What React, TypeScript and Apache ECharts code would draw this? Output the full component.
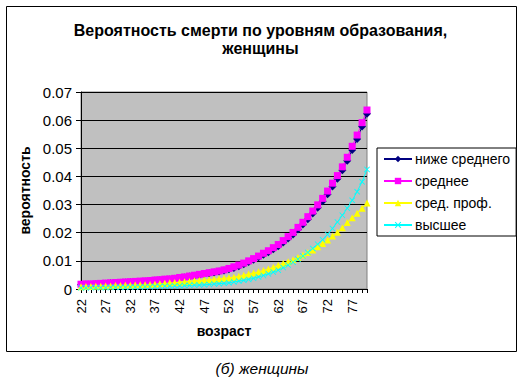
import React, { useEffect, useRef } from "react";
import * as echarts from "echarts";

const ages: string[] = [
  "22","23","24","25","26","27","28","29","30","31","32","33","34","35","36","37","38","39","40",
  "41","42","43","44","45","46","47","48","49","50","51","52","53","54","55","56","57","58","59","60",
  "61","62","63","64","65","66","67","68","69","70","71","72","73","74","75","76","77","78","79","80",
];

const belowSecondary: number[] = [
  0.0015, 0.0016, 0.0016, 0.0017, 0.0018, 0.0019, 0.0020, 0.0021, 0.0022, 0.0023,
  0.0024, 0.0025, 0.0026, 0.0027, 0.0028, 0.0030, 0.0031, 0.0033, 0.0034, 0.0036,
  0.0039, 0.0041, 0.0044, 0.0047, 0.0050, 0.0053, 0.0056, 0.0059, 0.0062, 0.0066,
  0.0070, 0.0075, 0.0081, 0.0088, 0.0096, 0.0104, 0.0113, 0.0122, 0.0131, 0.0141,
  0.0152, 0.0165, 0.0179, 0.0194, 0.0211, 0.0229, 0.0248, 0.0268, 0.0289, 0.0312,
  0.0337, 0.0364, 0.0392, 0.0422, 0.0456, 0.0494, 0.0533, 0.0577, 0.0623,
];

const secondary: number[] = [
  0.0017, 0.0018, 0.0018, 0.0019, 0.0020, 0.0021, 0.0022, 0.0023, 0.0024, 0.0025,
  0.0026, 0.0027, 0.0028, 0.0029, 0.0030, 0.0032, 0.0033, 0.0035, 0.0036, 0.0038,
  0.0041, 0.0043, 0.0046, 0.0049, 0.0052, 0.0055, 0.0058, 0.0061, 0.0064, 0.0068,
  0.0073, 0.0079, 0.0085, 0.0092, 0.0100, 0.0108, 0.0117, 0.0127, 0.0136, 0.0147,
  0.0158, 0.0172, 0.0186, 0.0201, 0.0219, 0.0237, 0.0257, 0.0277, 0.0299, 0.0322,
  0.0348, 0.0376, 0.0403, 0.0434, 0.0468, 0.0507, 0.0547, 0.0591, 0.0636,
];

const vocational: number[] = [
  0.0008, 0.0009, 0.0009, 0.0010, 0.0010, 0.0011, 0.0011, 0.0012, 0.0012, 0.0013,
  0.0013, 0.0014, 0.0015, 0.0015, 0.0016, 0.0017, 0.0019, 0.0020, 0.0022, 0.0023,
  0.0024, 0.0026, 0.0027, 0.0029, 0.0030, 0.0032, 0.0033, 0.0035, 0.0036, 0.0038,
  0.0040, 0.0042, 0.0045, 0.0049, 0.0053, 0.0057, 0.0061, 0.0066, 0.0071, 0.0077,
  0.0084, 0.0091, 0.0097, 0.0104, 0.0112, 0.0121, 0.0130, 0.0139, 0.0150, 0.0162,
  0.0174, 0.0188, 0.0202, 0.0218, 0.0236, 0.0253, 0.0269, 0.0287, 0.0306,
];

const higher: number[] = [
  0.0004, 0.0004, 0.0005, 0.0005, 0.0005, 0.0005, 0.0006, 0.0006, 0.0006, 0.0006,
  0.0007, 0.0007, 0.0007, 0.0008, 0.0008, 0.0009, 0.0009, 0.0010, 0.0010, 0.0011,
  0.0011, 0.0012, 0.0013, 0.0014, 0.0014, 0.0015, 0.0016, 0.0018, 0.0019, 0.0020,
  0.0022, 0.0025, 0.0028, 0.0031, 0.0034, 0.0038, 0.0043, 0.0048, 0.0054, 0.0060,
  0.0067, 0.0076, 0.0085, 0.0095, 0.0106, 0.0117, 0.0130, 0.0144, 0.0159, 0.0175,
  0.0194, 0.0215, 0.0238, 0.0262, 0.0287, 0.0315, 0.0346, 0.0381, 0.0425,
];

const seriesNames = ["ниже среднего", "среднее", "сред. проф.", "высшее"];
const yTicks = [0, 0.01, 0.02, 0.03, 0.04, 0.05, 0.06, 0.07];

const FONT = "Liberation Sans, Arial, sans-serif";
const CROSS = "path://M0,1L1,0L5,4L9,0L10,1L6,5L10,9L9,10L5,6L1,10L0,9L4,5Z";

export default function App() {
  const ref = useRef<HTMLDivElement>(null);

  useEffect(() => {
    if (!ref.current) return;
    const chart = echarts.init(ref.current, null, { renderer: "svg" });
    const mk = (name: string, data: number[], color: string, symbol: string, size: number) => ({
      name,
      type: "line",
      data,
      symbol,
      symbolSize: size,
      showSymbol: true,
      showAllSymbol: true,
      lineStyle: { color, width: 1 },
      itemStyle: { color },
      emphasis: { disabled: true },
    });
    chart.setOption({
      animation: false,
      backgroundColor: "#ffffff",
      title: {
        text: "Вероятность смерти по уровням образования,\nженщины",
        left: "center",
        top: 16,
        textStyle: { fontFamily: FONT, fontSize: 16, fontWeight: "bold", lineHeight: 18, color: "#000" },
      },
      legend: {
        orient: "vertical",
        left: 377,
        top: 148,
        width: 136,
        padding: [4, 6, 4, 6],
        itemWidth: 28,
        itemHeight: 8,
        itemGap: 8,
        borderColor: "#000",
        borderWidth: 1,
        backgroundColor: "#fff",
        data: seriesNames,
        textStyle: { fontFamily: FONT, fontSize: 14, color: "#000", padding: [0, 0, 0, -2] },
      },
      grid: {
        left: 81,
        top: 92,
        right: 154,
        bottom: 90,
        show: true,
        backgroundColor: "#C0C0C0",
        borderColor: "#808080",
        borderWidth: 1,
      },
      xAxis: {
        type: "category",
        data: ages,
        boundaryGap: false,
        name: "возраст",
        nameLocation: "middle",
        nameGap: 35,
        nameTextStyle: { fontFamily: FONT, fontSize: 14, fontWeight: "bold", color: "#000" },
        axisLine: { lineStyle: { color: "#000", width: 1 } },
        axisTick: { show: true, interval: 0, length: 4, lineStyle: { color: "#000" } },
        axisLabel: {
          interval: 4,
          rotate: 90,
          fontFamily: FONT,
          fontSize: 13,
          color: "#000",
          margin: 10,
        },
        splitLine: { show: false },
      },
      yAxis: {
        type: "value",
        min: 0,
        max: 0.07,
        interval: 0.01,
        name: "вероятность",
        nameLocation: "middle",
        nameGap: 39,
        nameTextStyle: { fontFamily: FONT, fontSize: 14, fontWeight: "bold", color: "#000" },
        axisLine: { show: true, lineStyle: { color: "#000", width: 1 } },
        axisTick: { show: true, length: 5, lineStyle: { color: "#000" } },
        axisLabel: {
          fontFamily: FONT,
          fontSize: 15,
          color: "#000",
          margin: 9,
          formatter: (v: number) => {
            const t = yTicks.find((x) => Math.abs(x - v) < 1e-9);
            const val = t === undefined ? v : t;
            return val === 0 ? "0" : val.toFixed(2);
          },
        },
        splitLine: { show: true, lineStyle: { color: "#000", width: 1 } },
      },
      graphic: [
        {
          type: "rect",
          shape: { x: 6.5, y: 6.5, width: 510, height: 345 },
          style: { fill: "none", stroke: "#000", lineWidth: 1 },
          silent: true,
          z: -1,
        },
        {
          type: "text",
          x: 262,
          y: 368,
          style: {
            text: "(б) женщины",
            fontFamily: FONT,
            fontSize: 15.5,
            fontStyle: "italic",
            fill: "#000",
            align: "center",
            verticalAlign: "middle",
          },
        },
      ],
      series: [
        mk(seriesNames[0], belowSecondary, "#000080", "diamond", 8),
        mk(seriesNames[1], secondary, "#FF00FF", "rect", 7),
        mk(seriesNames[2], vocational, "#FFFF00", "triangle", 7),
        mk(seriesNames[3], higher, "#00FFFF", CROSS, 6),
      ],
    });
    return () => chart.dispose();
  }, []);

  return (
    <div style={{ position: "fixed", left: 0, top: 0, width: 521, height: 379, background: "#fff" }}>
      <div ref={ref} style={{ width: 521, height: 379 }} />
    </div>
  );
}
